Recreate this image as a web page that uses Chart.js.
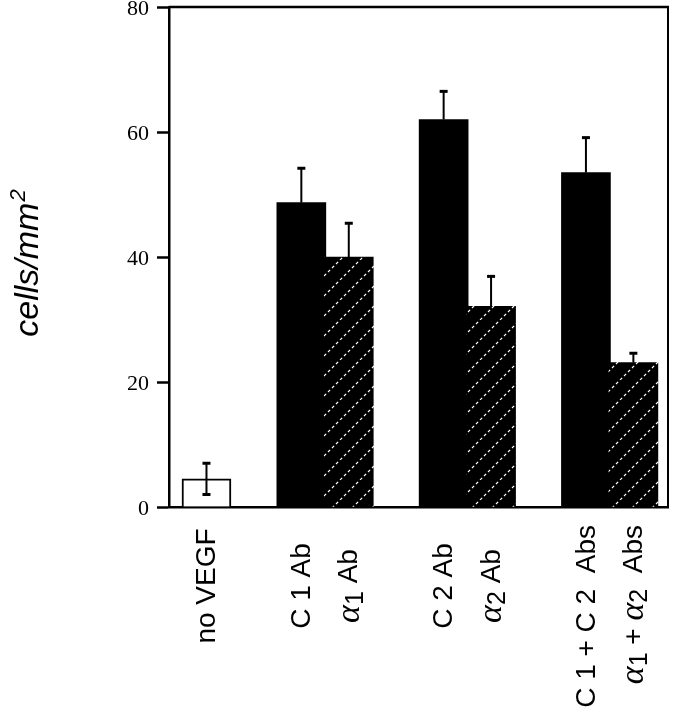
<!DOCTYPE html>
<html><head><meta charset="utf-8">
<script src="https://cdn.jsdelivr.net/npm/chart.js@4.4.0/dist/chart.umd.min.js"></script>
<style>html,body{margin:0;padding:0;background:#fff;}</style>
</head><body>
<canvas id="c" width="676" height="720"></canvas>
<script>
// ---- data ----
const categories = ['no VEGF', 'C 1 Ab', 'α_1 Ab', 'C 2 Ab', 'α_2 Ab', 'C 1 + C 2  Abs', 'α_1 + α_2  Abs'];
const groupIndex = [0, 1, 1, 2, 2, 3, 3];
const values = [4.5, 48.7, 40.0, 62.0, 32.1, 53.5, 23.1];
const errors = [2.5, 5.5, 5.4, 4.5, 4.8, 5.6, 1.5];
const barKinds = ['open', 'solid', 'hatched', 'solid', 'hatched', 'solid', 'hatched'];
const yTicks = [0, 20, 40, 60, 80];
const yTitle = 'cells/mm';
const yTitleSup = '2';

// ---- hatch pattern ----
function makeHatch() {
  const s = 20, c = document.createElement('canvas');
  c.width = s; c.height = s;
  const g = c.getContext('2d');
  g.fillStyle = '#000'; g.fillRect(0, 0, s, s);
  g.strokeStyle = '#fff'; g.lineWidth = 1.2; g.setLineDash([3, 2.657]);
  for (const k of [-1, 0, 1]) {
    g.beginPath(); g.moveTo(k * s, s); g.lineTo(k * s + s, 0); g.stroke();
  }
  return g.createPattern(c, 'repeat');
}
const ctx = document.getElementById('c').getContext('2d');
const hatch = makeHatch();

function parseLabel(lab) {
  const segs = [];
  const re = /([^_]*?)(α)_(\d)/g;
  let last = 0, m;
  while ((m = re.exec(lab))) {
    if (m[1]) segs.push({ t: m[1], kind: 'n' });
    segs.push({ t: m[2], kind: 'g' });
    segs.push({ t: m[3], kind: 's' });
    last = re.lastIndex;
  }
  if (last < lab.length) segs.push({ t: lab.slice(last), kind: 'n' });
  return segs;
}
const segFont = { n: '28px "Liberation Sans"', g: 'italic 34px "Liberation Serif"', s: '25px "Liberation Sans"' };
const segShift = { n: 0, g: 0, s: 6 };

const labelPlugin = {
  id: 'labels',
  afterDraw(chart) {
    const c = chart.ctx, area = chart.chartArea, meta = chart.getDatasetMeta(0);
    c.save();
    c.fillStyle = '#000';
    c.textBaseline = 'middle'; c.textAlign = 'left';
    categories.forEach((lab, i) => {
      const px = meta.data[i].x;
      const segs = parseLabel(lab);
      let w = 0;
      segs.forEach(sg => { c.font = segFont[sg.kind]; sg.w = c.measureText(sg.t).width; w += sg.w; });
      const yEnd = Math.max(area.bottom + 79 - w / 2, area.bottom + 18);
      const yc = yEnd + w / 2;
      c.save();
      c.translate(px + 1, yc);
      c.rotate(-Math.PI / 2);
      let cx = -w / 2;
      segs.forEach(sg => { c.font = segFont[sg.kind]; c.fillText(sg.t, cx, segShift[sg.kind]); cx += sg.w; });
      c.restore();
    });
    // y title with superscript
    c.save();
    c.textBaseline = 'alphabetic';
    c.font = 'italic 34px "Liberation Sans"';
    const w1 = c.measureText(yTitle).width;
    c.font = 'italic 22px "Liberation Sans"';
    const w2 = c.measureText(yTitleSup).width;
    const tw = w1 + w2 + 1;
    const cy = (area.top + area.bottom) / 2 + 6;
    c.translate(38, cy);
    c.rotate(-Math.PI / 2);
    c.font = 'italic 34px "Liberation Sans"';
    c.fillText(yTitle, -tw / 2, 0);
    c.font = 'italic 22px "Liberation Sans"';
    c.fillText(yTitleSup, -tw / 2 + w1 + 1, -13);
    c.restore();
    // frame: top and right
    c.strokeStyle = '#000';
    c.lineWidth = 2.5;
    c.beginPath(); c.moveTo(area.left, area.top); c.lineTo(area.right + 1, area.top); c.stroke();
    c.lineWidth = 2;
    c.beginPath(); c.moveTo(area.right, area.top); c.lineTo(area.right, area.bottom); c.stroke();
    c.restore();
  }
};

const errorPlugin = {
  id: 'errs',
  afterDatasetsDraw(chart) {
    const c = chart.ctx, ys = chart.scales.y, meta = chart.getDatasetMeta(0);
    c.save(); c.strokeStyle = '#000';
    meta.data.forEach((bar, i) => {
      const x = bar.x;
      const top = ys.getPixelForValue(values[i] + errors[i]);
      const open = barKinds[i] === 'open';
      const bot = open ? ys.getPixelForValue(values[i] - errors[i]) : bar.y;
      c.lineWidth = 2;
      c.beginPath(); c.moveTo(x, bot); c.lineTo(x, top); c.stroke();
      c.lineWidth = 3;
      c.beginPath(); c.moveTo(x - 4, top); c.lineTo(x + 4, top); c.stroke();
      if (open) { c.beginPath(); c.moveTo(x - 4, bot); c.lineTo(x + 4, bot); c.stroke(); }
    });
    c.restore();
  }
};

new Chart(ctx, {
  type: 'bar',
  data: {
    datasets: [{
      data: values.map((v, i) => ({ x: i + groupIndex[i], y: v })),
      backgroundColor: barKinds.map(k => k === 'solid' ? '#000' : k === 'hatched' ? hatch : '#fff'),
      borderColor: '#000',
      borderWidth: barKinds.map(k => k === 'open' ? 2 : 0),
      barThickness: 49
    }]
  },
  options: {
    responsive: false, animation: false, devicePixelRatio: 1,
    layout: { padding: { top: 7, right: 8, left: 0, bottom: 0 } },
    plugins: { legend: { display: false }, tooltip: { enabled: false } },
    scales: {
      x: {
        type: 'linear', position: 'bottom', min: -0.79, max: 9.73, offset: false,
        ticks: { display: false }, grid: { display: false },
        border: { display: true, color: '#000', width: 2.5 },
        afterFit: s => { s.height = 213; s.paddingLeft = 0; s.paddingRight = 0; }
      },
      y: {
        min: 0, max: 80,
        afterBuildTicks: s => { s.ticks = yTicks.map(v => ({ value: v })); },
        ticks: { font: { family: 'Liberation Serif', size: 22 }, color: '#000', padding: 8, labelOffset: 2 },
        grid: { drawOnChartArea: false, drawTicks: true, tickLength: 12, tickWidth: 2.5, color: '#000' },
        border: { color: '#000', width: 2.5 },
        title: { display: false },
        afterFit: s => { s.width = 169; s.paddingTop = 0; s.paddingBottom = 0; }
      }
    }
  },
  plugins: [errorPlugin, labelPlugin]
});
</script>
</body></html>
